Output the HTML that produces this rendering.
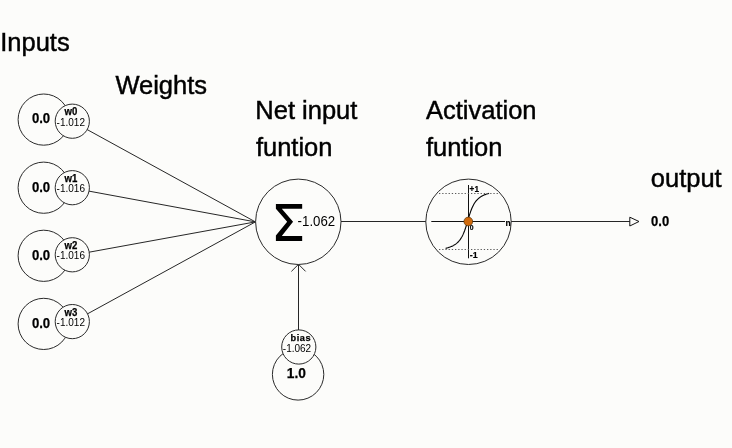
<!DOCTYPE html>
<html><head><meta charset="utf-8">
<style>
html,body{margin:0;padding:0;background:#fcfcfa;}
body{width:732px;height:448px;overflow:hidden;}
svg{display:block;will-change:transform;}
text{font-family:"Liberation Sans",sans-serif;fill:#000;}
.lbl{font-size:25.5px;fill:#000;stroke:#000;stroke-width:0.45px;}
.b{font-weight:bold;stroke:#000;stroke-width:0.25px;}
</style></head><body>
<svg width="732" height="448" viewBox="0 0 732 448">
<rect width="732" height="448" fill="#fcfcfa"/>

<text class="lbl" x="0.2" y="51.2">Inputs</text>
<text class="lbl" x="115.4" y="93.6">Weights</text>
<text class="lbl" x="255.3" y="119.3">Net input</text>
<text class="lbl" x="255.9" y="156.2">funtion</text>
<text class="lbl" x="426" y="119.3">Activation</text>
<text class="lbl" x="425.9" y="156.2">funtion</text>
<text class="lbl" x="650.8" y="186.8">output</text>
<g stroke="#262626" stroke-width="1" fill="none">
<line x1="72.60" y1="121.60" x2="255.4" y2="221.9"/>
<line x1="72.60" y1="188.10" x2="255.4" y2="221.9"/>
<line x1="72.60" y1="255.20" x2="255.4" y2="221.9"/>
<line x1="72.60" y1="322.00" x2="255.4" y2="221.9"/>
<line x1="341" y1="221.5" x2="630" y2="221.5"/>
<line x1="298.5" y1="264.3" x2="298.5" y2="330"/>
<polyline points="291.4,271.4 298.5,264.3 305.6,271.4"/>
</g>
<g stroke="#2a2a2a" stroke-width="1" fill="#fcfcfa">
<circle cx="43.7" cy="119.60" r="25.6"/>
<circle cx="72.3" cy="121.20" r="17.1"/>
<circle cx="43.7" cy="187.70" r="25.6"/>
<circle cx="72.3" cy="187.70" r="17.1"/>
<circle cx="43.7" cy="255.80" r="25.6"/>
<circle cx="72.3" cy="254.80" r="17.1"/>
<circle cx="43.7" cy="323.90" r="25.6"/>
<circle cx="72.3" cy="321.60" r="17.1"/>
<circle cx="298.30" cy="221.80" r="42.70"/>
<circle cx="468.50" cy="221.80" r="42.70"/>
<circle cx="298.1" cy="374.4" r="25.7"/>
<circle cx="298.8" cy="347" r="17.1"/>
</g>
<text class="b" x="31.9" y="123.40" font-size="14.3" textLength="18.3" lengthAdjust="spacingAndGlyphs">0.0</text>
<text class="b" x="64.5" y="115.10" font-size="10" textLength="12.8" lengthAdjust="spacingAndGlyphs">w0</text>
<text x="56.6" y="125.50" font-size="10.4" fill="#666" textLength="28.4" lengthAdjust="spacingAndGlyphs">-1.012</text>
<text class="b" x="31.9" y="191.50" font-size="14.3" textLength="18.3" lengthAdjust="spacingAndGlyphs">0.0</text>
<text class="b" x="64.5" y="181.60" font-size="10" textLength="12.8" lengthAdjust="spacingAndGlyphs">w1</text>
<text x="56.6" y="192.00" font-size="10.4" fill="#666" textLength="28.4" lengthAdjust="spacingAndGlyphs">-1.016</text>
<text class="b" x="31.9" y="259.60" font-size="14.3" textLength="18.3" lengthAdjust="spacingAndGlyphs">0.0</text>
<text class="b" x="64.5" y="248.70" font-size="10" textLength="12.8" lengthAdjust="spacingAndGlyphs">w2</text>
<text x="56.6" y="259.10" font-size="10.4" fill="#666" textLength="28.4" lengthAdjust="spacingAndGlyphs">-1.016</text>
<text class="b" x="31.9" y="327.70" font-size="14.3" textLength="18.3" lengthAdjust="spacingAndGlyphs">0.0</text>
<text class="b" x="64.5" y="315.50" font-size="10" textLength="12.8" lengthAdjust="spacingAndGlyphs">w3</text>
<text x="56.6" y="325.90" font-size="10.4" fill="#666" textLength="28.4" lengthAdjust="spacingAndGlyphs">-1.012</text>
<text class="b" x="651.1" y="225.6" font-size="14" textLength="18.1" lengthAdjust="spacingAndGlyphs">0.0</text>
<text class="b" x="286.8" y="378.4" font-size="14.2" textLength="19.1" lengthAdjust="spacingAndGlyphs">1.0</text>
<text class="b" x="290.5" y="340.75" font-size="9.2" textLength="20.2" lengthAdjust="spacing">bias</text>
<text x="282.8" y="351.6" font-size="10.5" fill="#555" textLength="28.4" lengthAdjust="spacingAndGlyphs">-1.062</text>
<text x="297.6" y="225.8" font-size="14.2" fill="#111" textLength="37.6" lengthAdjust="spacingAndGlyphs">-1.062</text>
<polygon fill="#000" points="275.90,203.90 302.17,203.90 302.17,208.72 281.80,208.72 293.06,221.81 281.80,236.07 302.17,236.07 302.17,240.90 275.90,240.90 275.90,235.53 287.16,221.81 275.90,208.72"/>
<g stroke="#111" stroke-width="1" fill="none">
<line x1="468.5" y1="185" x2="468.5" y2="258.3"/>
<line x1="431.3" y1="221.5" x2="505" y2="221.5"/>
<polyline stroke="#000" stroke-width="1.1" points="445.60,248.38 446.10,248.26 446.60,248.12 447.10,247.98 447.60,247.84 448.10,247.68 448.60,247.52 449.10,247.35 449.60,247.18 450.10,246.99 450.60,246.80 451.10,246.59 451.60,246.38 452.10,246.15 452.60,245.91 453.10,245.65 453.60,245.38 454.10,245.09 454.60,244.79 455.10,244.46 455.60,244.12 456.10,243.75 456.60,243.35 457.10,242.93 457.60,242.48 458.10,241.99 458.60,241.47 459.10,240.91 459.60,240.30 460.10,239.64 460.60,238.93 461.10,238.16 461.60,237.33 462.10,236.43 462.60,235.45 463.10,234.39 463.60,233.25 464.10,232.02 464.60,230.71 465.10,229.30 465.60,227.82 466.10,226.25 466.60,224.63 467.10,222.96 467.60,221.26 468.10,219.56 468.60,217.87 469.10,216.21 469.60,214.61 470.10,213.08 470.60,211.63 471.10,210.26 471.60,208.98 472.10,207.78 472.60,206.68 473.10,205.65 473.60,204.70 474.10,203.83 474.60,203.02 475.10,202.28 475.60,201.59 476.10,200.95 476.60,200.36 477.10,199.82 477.60,199.31 478.10,198.84 478.60,198.40 479.10,197.98 479.60,197.60 480.10,197.24 480.60,196.90 481.10,196.59 481.60,196.29 482.10,196.01 482.60,195.75 483.10,195.50 483.60,195.26 484.10,195.04 484.60,194.83 485.10,194.62 485.60,194.43 486.10,194.25 486.60,194.08 487.10,193.91 487.60,193.76 488.10,193.60 488.60,193.46 489.10,193.32"/>
</g>
<g stroke="#5a5a5a" stroke-width="1" stroke-dasharray="1.3,1.9">
<line x1="439" y1="193.5" x2="499.5" y2="193.5"/>
<line x1="439" y1="249.5" x2="499.5" y2="249.5"/>
</g>
<circle cx="468.3" cy="221.5" r="4.4" fill="#d06a0c" stroke="#3a2000" stroke-width="0.6"/>
<g font-weight="bold" fill="#000" stroke="#000" stroke-width="0.2">
<text x="469.6" y="191.6" font-size="8.2">+1</text>
<text x="469.8" y="258" font-size="8.8">-1</text>
<text x="469.8" y="229.7" font-size="7.6" textLength="3.8" lengthAdjust="spacingAndGlyphs">0</text>
<text x="505.6" y="225.8" font-size="8.4" textLength="5.2" lengthAdjust="spacingAndGlyphs">n</text>
</g>
<polygon points="629.8,217.2 639,221.5 629.8,226" fill="#fcfcfa" stroke="#111" stroke-width="1"/>
</svg>
</body></html>
